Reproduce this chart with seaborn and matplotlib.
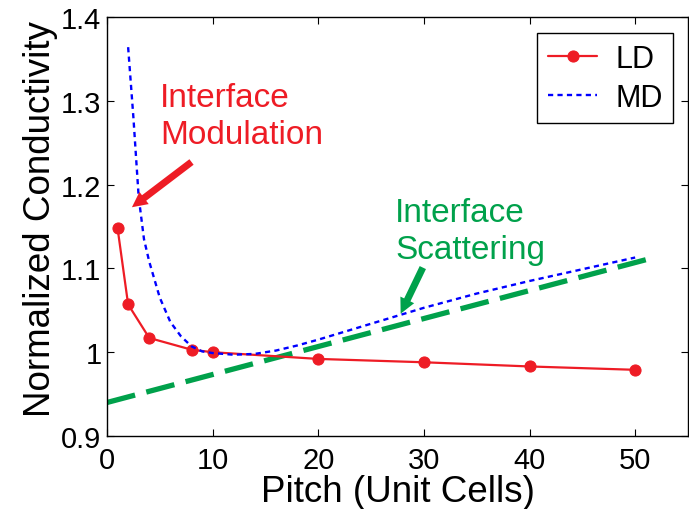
import numpy as np
import seaborn as sns
import matplotlib.pyplot as plt

# LD data points (red)
ld_pitch = [1, 2, 4, 8, 10, 20, 30, 40, 50]
ld_cond = [1.148, 1.057, 1.017, 1.003, 1.0, 0.992, 0.988, 0.983, 0.979]

# MD curve (blue dotted)
md_pitch = [2, 2.5, 3, 3.5, 4, 5, 6, 7, 8, 9, 10, 12, 14, 16, 18, 20, 25, 30, 35, 40, 45, 50]
md_cond = [1.364, 1.28, 1.185, 1.135, 1.108, 1.065, 1.036, 1.019, 1.007, 1.001, 0.999,
           0.997, 0.998, 1.002, 1.008, 1.015, 1.034, 1.053, 1.07, 1.085, 1.099, 1.113]

# interface scattering trend (green dashed)
trend_pitch = [0, 51.5]
trend_cond = [0.94, 1.112]

sns.set_style("ticks")
plt.rcParams['font.family'] = ['Liberation Sans', 'DejaVu Sans']
plt.rcParams['text.color'] = 'black'
plt.rcParams['axes.labelcolor'] = 'black'
plt.rcParams['xtick.color'] = 'black'
plt.rcParams['ytick.color'] = 'black'

red = '#ee1c25'
green = '#00a14b'

fig = plt.figure(figsize=(6.89, 5.10), dpi=100)
ax = fig.add_axes([0.1553, 0.1431, 0.8432, 0.8216])

sns.lineplot(x=trend_pitch, y=trend_cond, color=green, lw=3.8, ls=(0, (5.5, 2.2)), ax=ax)
ld_line = sns.lineplot(x=ld_pitch, y=ld_cond, color=red, lw=1.6, marker='o',
                       markersize=8, markeredgecolor=red, ax=ax).lines[-1]
md_line = sns.lineplot(x=md_pitch, y=md_cond, color='#0000ff', lw=1.7,
                       ls=(0, (2.2, 1.8)), ax=ax).lines[-1]

ax.set_xlim(0, 55)
ax.set_ylim(0.9, 1.4)
ax.set_xticks([0, 10, 20, 30, 40, 50])
ax.set_yticks([0.9, 1.0, 1.1, 1.2, 1.3, 1.4])
ax.set_yticklabels(['0.9', '1', '1.1', '1.2', '1.3', '1.4'])
ax.tick_params(direction='in', top=True, right=True, length=5, width=0.8,
               labelsize=21, colors='black')
ax.tick_params(axis='y', pad=4)
ax.tick_params(axis='x', pad=7)
for s in ax.spines.values():
    s.set_color('black')
    s.set_linewidth(1.0)

ax.set_xlabel('Pitch (Unit Cells)', fontsize=26.5, labelpad=0, color='black')
ax.set_ylabel('Normalized Conductivity', fontsize=26.5, labelpad=2, color='black')
ax.yaxis.label.set_y(0.52)

leg = ax.legend([ld_line, md_line], ['LD', 'MD'], loc='upper right',
                bbox_to_anchor=(0.975, 0.962), borderaxespad=0, fontsize=22,
                fancybox=False, framealpha=1, edgecolor='black',
                handlelength=1.6, handletextpad=0.6, borderpad=0.35,
                labelspacing=0.3)
leg.get_frame().set_linewidth(1.0)
for t in leg.get_texts():
    t.set_color('black')

arrow_style = 'simple,head_length=1.1,head_width=1.1,tail_width=0.5'

ax.text(5.0, 1.322, 'Interface\nModulation', color=red, fontsize=24,
        va='top', ha='left', linespacing=1.25)
ax.annotate('', xy=(2.36, 1.173), xytext=(8.0, 1.227),
            arrowprops=dict(arrowstyle=arrow_style, color=red, lw=0,
                            shrinkA=0, shrinkB=0))

ax.text(27.3, 1.185, 'Interface\nScattering', color=green, fontsize=24,
        va='top', ha='left', linespacing=1.25)
ax.annotate('', xy=(27.8, 1.046), xytext=(29.9, 1.101),
            arrowprops=dict(arrowstyle=arrow_style, color=green, lw=0,
                            shrinkA=0, shrinkB=0))

plt.savefig('out.png', dpi=100)
